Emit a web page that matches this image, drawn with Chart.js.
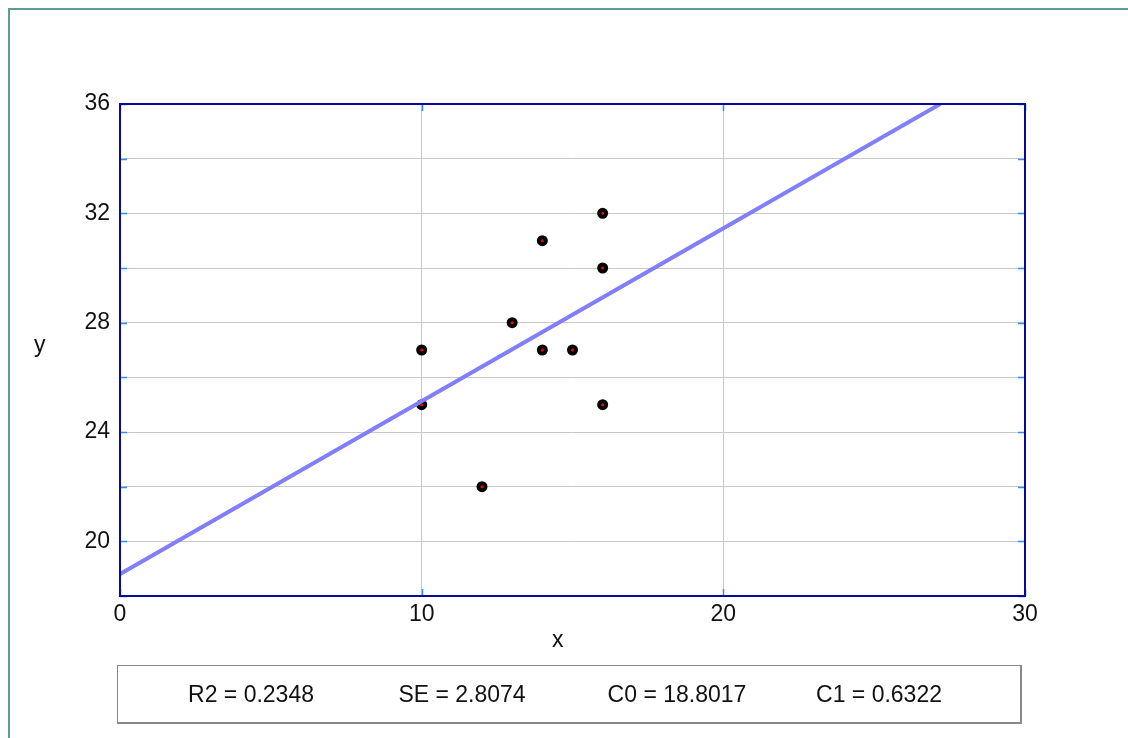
<!DOCTYPE html>
<html>
<head>
<meta charset="utf-8">
<script src="https://cdn.jsdelivr.net/npm/chart.js@4/dist/chart.umd.min.js"></script>
<style>
  body { margin: 0; background: #fff; overflow: hidden; }
  #wrap { position: relative; width: 1128px; height: 738px; font-family: "Liberation Sans", Arial, sans-serif; color: #111; }
  #frame { position: absolute; left: 8px; top: 8px; width: 1140px; height: 760px; border-left: 2px solid #5f9a9a; border-top: 2px solid #5f9a9a; }
  canvas { position: absolute; left: 0; top: 0; }
  .axlab { position: absolute; font-size: 23px; }
  #stats { position: absolute; left: 117px; top: 665px; width: 905px; height: 59px; box-sizing: border-box;
           border: 1px solid #888; border-right-width: 2px; border-bottom-width: 2px; }
  #stats span { position: absolute; top: 15px; font-size: 23px; transform: translateX(-50%); white-space: nowrap; }
</style>
</head>
<body>
<div id="wrap">
  <div id="frame"></div>
  <canvas id="myChart" width="1128" height="738"></canvas>
  <div class="axlab" style="left:34px; top:331px;">y</div>
  <div class="axlab" style="left:552px; top:626px;">x</div>
  <div id="stats"></div>
</div>
<script>
// observed data
const xValues = [10, 10, 12, 13, 14, 14, 15, 16, 16, 16];
const yValues = [27, 25, 22, 28, 31, 27, 27, 32, 30, 25];

// fitted line y = C0 + C1 * x, end points
const fitX = [0, 27.19];
const fitY = [18.8017, 36.0];
const fitRedX = [0, 21];
const fitRedY = [18.8017, 32.08];

const statLabels = ["R2 = 0.2348", "SE = 2.8074", "C0 = 18.8017", "C1 = 0.6322"];
const statCenters = [250, 461, 676, 878];

const xTicks = [0, 10, 20, 30];
const yMin = 18, yMax = 36;

const stats = document.getElementById("stats");
statLabels.forEach((t, i) => {
  const s = document.createElement("span");
  s.textContent = t;
  s.style.left = (statCenters[i] - 117) + "px";
  stats.appendChild(s);
});

function toPoints(xs, ys) {
  return xs.map((x, i) => ({ x: x, y: ys[i] }));
}

const plotFrame = {
  id: "plotFrame",
  afterDraw(chart) {
    const { ctx, chartArea: a, scales } = chart;
    ctx.save();
    // little blue ticks on the inside of the frame
    ctx.strokeStyle = "#2f8cff";
    ctx.lineWidth = 1.5;
    for (let v = yMin; v <= yMax; v += 2) {
      const py = Math.round(scales.y.getPixelForValue(v)) + 0.5;
      ctx.beginPath();
      ctx.moveTo(a.left, py); ctx.lineTo(a.left + 7, py);
      ctx.moveTo(a.right, py); ctx.lineTo(a.right - 7, py);
      ctx.stroke();
    }
    xTicks.forEach((v) => {
      const px = Math.round(scales.x.getPixelForValue(v)) + 0.5;
      ctx.beginPath();
      ctx.moveTo(px, a.bottom); ctx.lineTo(px, a.bottom - 7);
      ctx.moveTo(px, a.top); ctx.lineTo(px, a.top + 7);
      ctx.stroke();
    });
    ctx.strokeStyle = "#0a0a96";
    ctx.lineWidth = 2;
    ctx.strokeRect(a.left, a.top, a.right - a.left, a.bottom - a.top);
    ctx.restore();
  }
};

const fontSpec = { family: "'Liberation Sans', Arial, sans-serif", size: 23 };

new Chart(document.getElementById("myChart"), {
  type: "scatter",
  data: {
    datasets: [
      {
        type: "line",
        data: toPoints(fitX, fitY),
        borderColor: "#8080ff",
        borderWidth: 4,
        pointRadius: 0,
        fill: false,
        order: 0
      },
      {
        type: "line",
        data: toPoints(fitRedX, fitRedY),
        borderColor: "#ff2020",
        borderWidth: 3,
        pointRadius: 0,
        fill: false,
        order: 1
      },
      {
        data: toPoints(xValues, yValues),
        backgroundColor: "#ff0000",
        borderColor: "#000000",
        borderWidth: 4,
        pointRadius: 3.5,
        pointHoverRadius: 3.5,
        order: 2
      }
    ]
  },
  options: {
    responsive: false,
    animation: false,
    devicePixelRatio: 1,
    layout: { padding: { top: 104, right: 103, left: 0, bottom: 0 } },
    plugins: { legend: { display: false }, tooltip: { enabled: false } },
    scales: {
      x: {
        type: "linear",
        min: 0,
        max: 30,
        afterFit: (s) => { s.height = 142; },
        afterBuildTicks: (s) => { s.ticks = xTicks.map((v) => ({ value: v })); },
        border: { display: false },
        grid: { color: "#c8c8c8", lineWidth: 1, drawTicks: false },
        ticks: { color: "#111", font: fontSpec, padding: 5 }
      },
      y: {
        type: "linear",
        min: yMin,
        max: yMax,
        afterFit: (s) => { s.width = 120; },
        border: { display: false },
        grid: { color: "#c8c8c8", lineWidth: 1, drawTicks: false },
        ticks: {
          stepSize: 2,
          color: "#111",
          font: fontSpec,
          padding: 10,
          callback: (v) => (v % 4 === 0 ? v : "")
        }
      }
    }
  },
  plugins: [plotFrame]
});
</script>
</body>
</html>
